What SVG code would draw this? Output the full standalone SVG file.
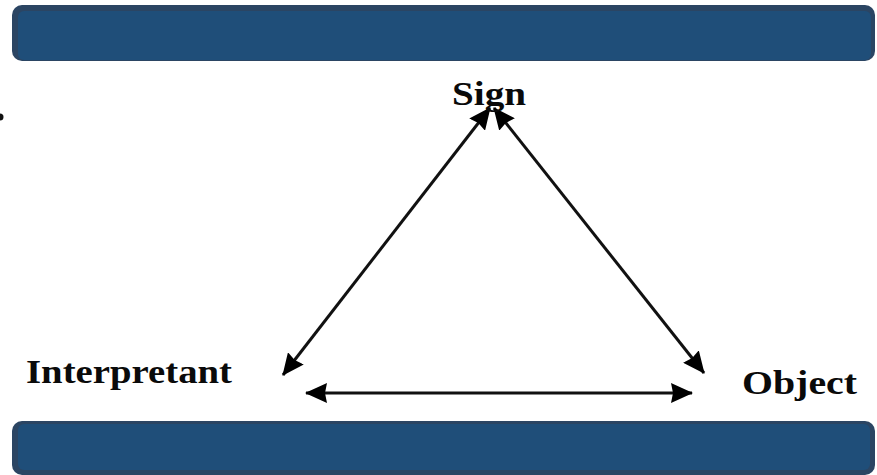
<svg xmlns="http://www.w3.org/2000/svg" width="877" height="475" viewBox="0 0 877 475">
<defs>
<marker id="ah" viewBox="0 0 22 20" refX="21" refY="10" markerUnits="userSpaceOnUse" markerWidth="22" markerHeight="20" orient="auto-start-reverse"><path d="M0 0L22 10L0 20L2 10Z" fill="#000"/></marker>
</defs>
<style>
.edge{fill:#2b4563}
.fill{fill:#1f4e79}
.lb{font-family:"Liberation Serif",serif;font-weight:bold;font-size:34px;fill:#0a0a0a}
.c{fill:none;stroke:#111;stroke-width:3;marker-start:url(#ah);marker-end:url(#ah)}
</style>
<rect width="877" height="475" fill="#fff"/>
<g id="top-bar"><rect class="edge" x="12" y="5" width="863" height="56" rx="10"/><rect class="fill" x="18" y="11" width="853" height="49" rx="6"/></g>
<g id="bottom-bar"><rect class="edge" x="12" y="421" width="863" height="54" rx="10"/><rect class="fill" x="18" y="424" width="852" height="46" rx="6"/></g>
<circle cx="0" cy="117" r="3.5" fill="#111"/>
<g id="connectors">
<path class="c" d="M490 108L283 375"/>
<path class="c" d="M494 108L704 373"/>
<path class="c" d="M306 393L692 393"/>
</g>
<g id="sign"><text class="lb" x="452" y="105" textLength="74" lengthAdjust="spacingAndGlyphs">Sign</text></g>
<g id="interpretant"><text class="lb" x="26" y="383" textLength="206" lengthAdjust="spacingAndGlyphs">Interpretant</text></g>
<g id="object"><text class="lb" x="742" y="394" textLength="115" lengthAdjust="spacingAndGlyphs">Object</text></g>
</svg>
